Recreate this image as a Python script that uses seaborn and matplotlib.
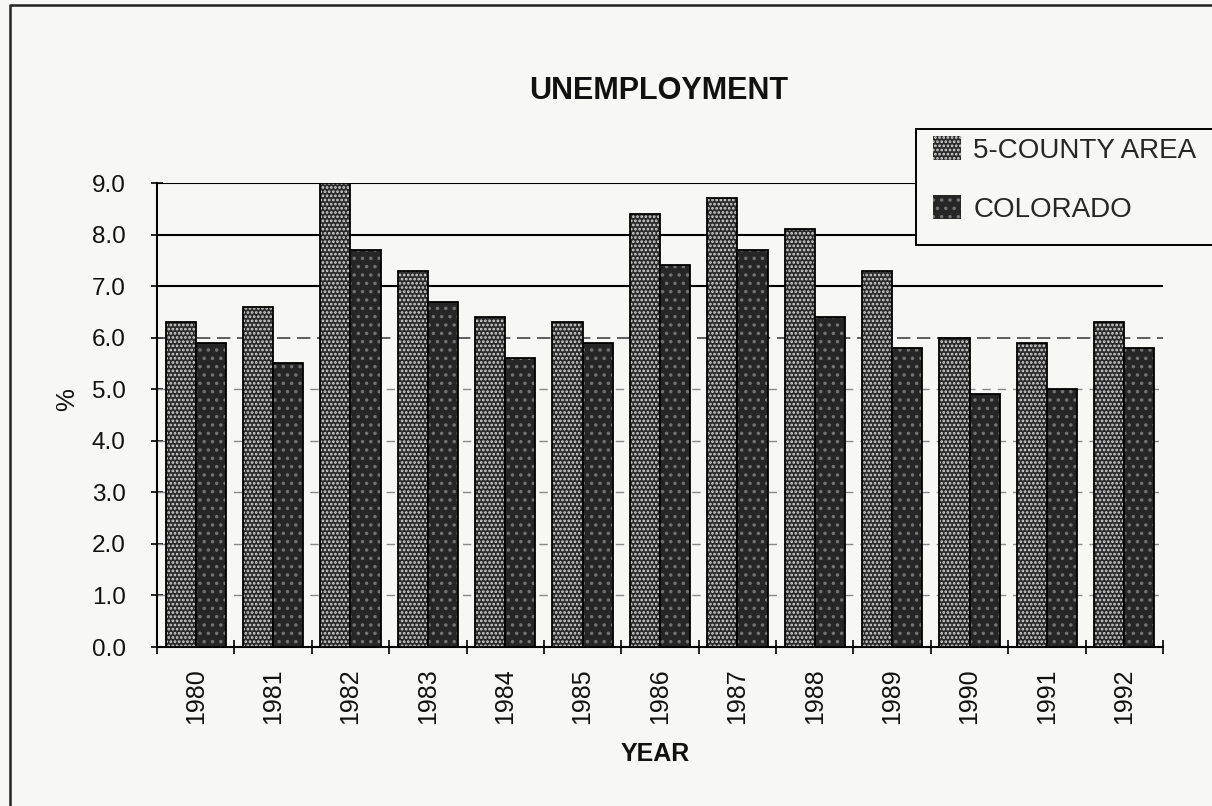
import numpy as np
import pandas as pd
import matplotlib
matplotlib.use("Agg")
import matplotlib.pyplot as plt
from matplotlib.patches import Patch, Rectangle
from matplotlib.lines import Line2D
import seaborn as sns

# Annual unemployment rate (%)
years = ["1980", "1981", "1982", "1983", "1984", "1985", "1986",
         "1987", "1988", "1989", "1990", "1991", "1992"]
five_county = [6.3, 6.6, 9.0, 7.3, 6.4, 6.3, 8.4, 8.7, 8.1, 7.3, 6.0, 5.9, 6.3]
colorado = [5.9, 5.5, 7.7, 6.7, 5.6, 5.9, 7.4, 7.7, 6.4, 5.8, 4.9, 5.0, 5.8]
series_names = ["5-COUNTY AREA", "COLORADO"]
y_ticks = [0.0, 1.0, 2.0, 3.0, 4.0, 5.0, 6.0, 7.0, 8.0, 9.0]

sns.set_theme(style="white")
plt.rcParams["font.family"] = ["Liberation Sans", "DejaVu Sans"]
plt.rcParams["hatch.linewidth"] = 1.3

W, H = 1212, 806
paper = "#f7f7f5"
fig = plt.figure(figsize=(W / 100, H / 100), dpi=100)
fig.patch.set_facecolor(paper)
ax = fig.add_axes([157 / W, 1 - 647 / H, (1163 - 157) / W, (647 - 183) / H])
ax.set_facecolor("none")

df = pd.DataFrame({
    "year": years * 2,
    "rate": five_county + colorado,
    "series": [series_names[0]] * len(years) + [series_names[1]] * len(years),
})

fills = {series_names[0]: "#2b2b2b", series_names[1]: "#262626"}
sns.barplot(data=df, x="year", y="rate", hue="series", palette=fills,
            width=0.78, edgecolor="black", linewidth=1.3, saturation=1,
            legend=False, ax=ax, zorder=3)

# stippled textures for the two series
textures = [("....", (0.95, 0.95, 0.95, 0.85)), ("..", (0.45, 0.45, 0.45, 1.0))]
for cont, (hatch, hcol) in zip(ax.containers, textures):
    for bar in cont:
        bar.set_hatch(hatch)
        bar._hatch_color = hcol

# horizontal reference lines
for v in y_ticks[1:]:
    if v >= 7:
        ax.axhline(v, color="black", lw=1.5, zorder=1)
    elif v == 6:
        ax.axhline(v, color="#444444", lw=1.2, ls=(0, (8, 4)), zorder=1)
    else:
        ax.axhline(v, color="#8a8a8a", lw=1.0, ls=(0, (6, 5)), zorder=1)

ax.set_ylim(0, 9)
ax.set_xlim(-0.5, len(years) - 0.5)
ax.set_xlabel("")
ax.set_ylabel("")

ax.set_yticks(y_ticks)
ax.set_yticklabels([f"{v:.1f}" for v in y_ticks], fontsize=17.5, color="#111")
ax.tick_params(axis="y", direction="inout", length=9, width=1.2,
               color="black", pad=18, left=True)

ax.set_xticks(range(len(years)))
ax.set_xticklabels(years, rotation=90, fontsize=18, color="#111")
ax.set_xticks(np.arange(-0.5, len(years), 1.0), minor=True)
ax.tick_params(axis="x", which="major", length=0, pad=15.5)
ax.tick_params(axis="x", which="minor", direction="inout", length=10,
               width=1.2, color="black", bottom=True)

for side in ["top", "right"]:
    ax.spines[side].set_visible(False)
for side in ["left", "bottom"]:
    ax.spines[side].set_color("black")
    ax.spines[side].set_linewidth(1.5)

# titles
fig.text(659 / W, 1 - 91 / H, "UNEMPLOYMENT", ha="center", va="center",
         fontsize=22, fontweight="bold", color="#111")
fig.text(655 / W, 1 - 754 / H, "YEAR", ha="center", va="center",
         fontsize=18, fontweight="bold", color="#111")
fig.text(67 / W, 1 - 400 / H, "%", ha="center", va="center", rotation=90,
         fontsize=18.5, color="#111")

# page frame
fig.add_artist(Line2D([10 / W, 10 / W, 1.0], [0.0, 1 - 5 / H, 1 - 5 / H],
                      transform=fig.transFigure, color="#222", lw=1.8))

# legend box
fig.add_artist(Rectangle((916 / W, 1 - 245 / H), (1240 - 916) / W, (245 - 129) / H,
                         transform=fig.transFigure, facecolor=paper,
                         edgecolor="black", lw=1.4, zorder=2))
handles = []
for name, (hatch, hcol) in zip(series_names, textures):
    p = Patch(facecolor=fills[name], edgecolor="none", hatch=hatch, label=name)
    p._hatch_color = hcol
    handles.append(p)
fig.legend(handles=handles, loc="upper left",
           bbox_to_anchor=(933 / W, 1 - 136 / H), bbox_transform=fig.transFigure,
           frameon=False, borderpad=0, borderaxespad=0, fontsize=20,
           handlelength=1.0, handleheight=0.95, handletextpad=0.45,
           labelspacing=1.15)

fig.savefig("out.png", dpi=100, facecolor=paper)
